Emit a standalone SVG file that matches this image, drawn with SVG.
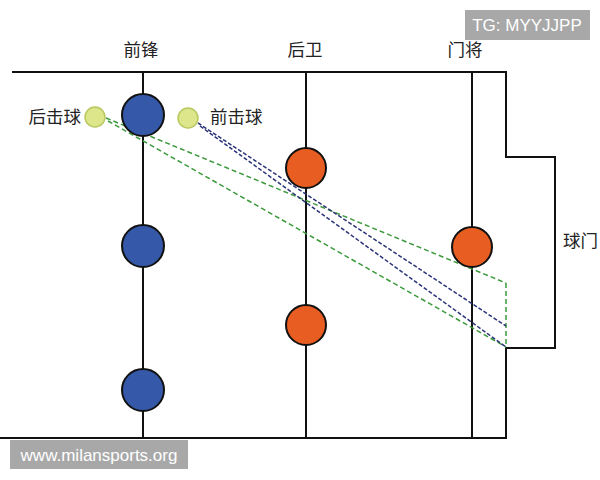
<svg xmlns="http://www.w3.org/2000/svg" width="600" height="480" viewBox="0 0 600 480">
<style>
.t{font-family:"Noto Sans CJK SC","Liberation Sans",sans-serif;font-size:17.5px;fill:#222}
.ln{stroke:#111;stroke-width:2;fill:none}
.blue{fill:#3558a8;stroke:#111;stroke-width:2}
.org{fill:#e85d22;stroke:#111;stroke-width:2}
.yel{fill:#dde68a;stroke:#b9c860;stroke-width:1.5}
.g{stroke:#3c9a3c;stroke-width:1.5;stroke-dasharray:5 3;fill:none}
.b{stroke:#2b3478;stroke-width:1.5;stroke-dasharray:4 2;fill:none}
.wm{fill:#a8a8a8}
.wt{font-family:"Liberation Sans",Arial,sans-serif;font-size:17px;fill:#fff}
</style>
<rect width="600" height="480" fill="#fff"/>
<g id="field">
<path class="ln" d="M12 72 H506 V157 H555 V348 H506 V438 H0"/>
<line class="ln" x1="143" y1="72" x2="143" y2="438"/>
<line class="ln" x1="306" y1="72" x2="306" y2="438"/>
<line class="ln" x1="472" y1="72" x2="472" y2="438"/>
</g>
<g id="connectors">
<line class="g" x1="106" y1="118" x2="506" y2="283"/>
<line class="g" x1="108" y1="121" x2="506" y2="347"/>
<line class="g" x1="506" y1="283" x2="506" y2="347"/>
<line class="b" x1="198" y1="123" x2="506" y2="326"/>
<line class="b" x1="200" y1="126" x2="506" y2="347"/>
</g>
<g id="forwards">
<circle class="blue" cx="143" cy="115" r="21"/>
<circle class="blue" cx="143" cy="246" r="21"/>
<circle class="blue" cx="143" cy="390" r="21"/>
</g>
<g id="defenders">
<circle class="org" cx="306" cy="168" r="20"/>
<circle class="org" cx="306" cy="325" r="20"/>
</g>
<g id="goalkeeper">
<circle class="org" cx="472" cy="247" r="20"/>
</g>
<g id="ball-back"><circle class="yel" cx="95" cy="117" r="10"/><text class="t" x="81" y="123" text-anchor="end">后击球</text></g>
<g id="ball-front"><circle class="yel" cx="188" cy="118" r="10"/><text class="t" x="210" y="123">前击球</text></g>
<g id="labels">
<text class="t" x="141" y="56" text-anchor="middle">前锋</text>
<text class="t" x="305" y="56" text-anchor="middle">后卫</text>
<text class="t" x="465" y="56" text-anchor="middle">门将</text>
<text class="t" x="563" y="247">球门</text>
</g>
<g id="watermarks">
<rect class="wm" x="465" y="10" width="125" height="30"/>
<text class="wt" x="527" y="31" text-anchor="middle">TG: MYYJJPP</text>
<rect class="wm" x="10" y="440" width="178" height="29"/>
<text class="wt" x="99" y="461" text-anchor="middle">www.milansports.org</text>
</g>
</svg>
